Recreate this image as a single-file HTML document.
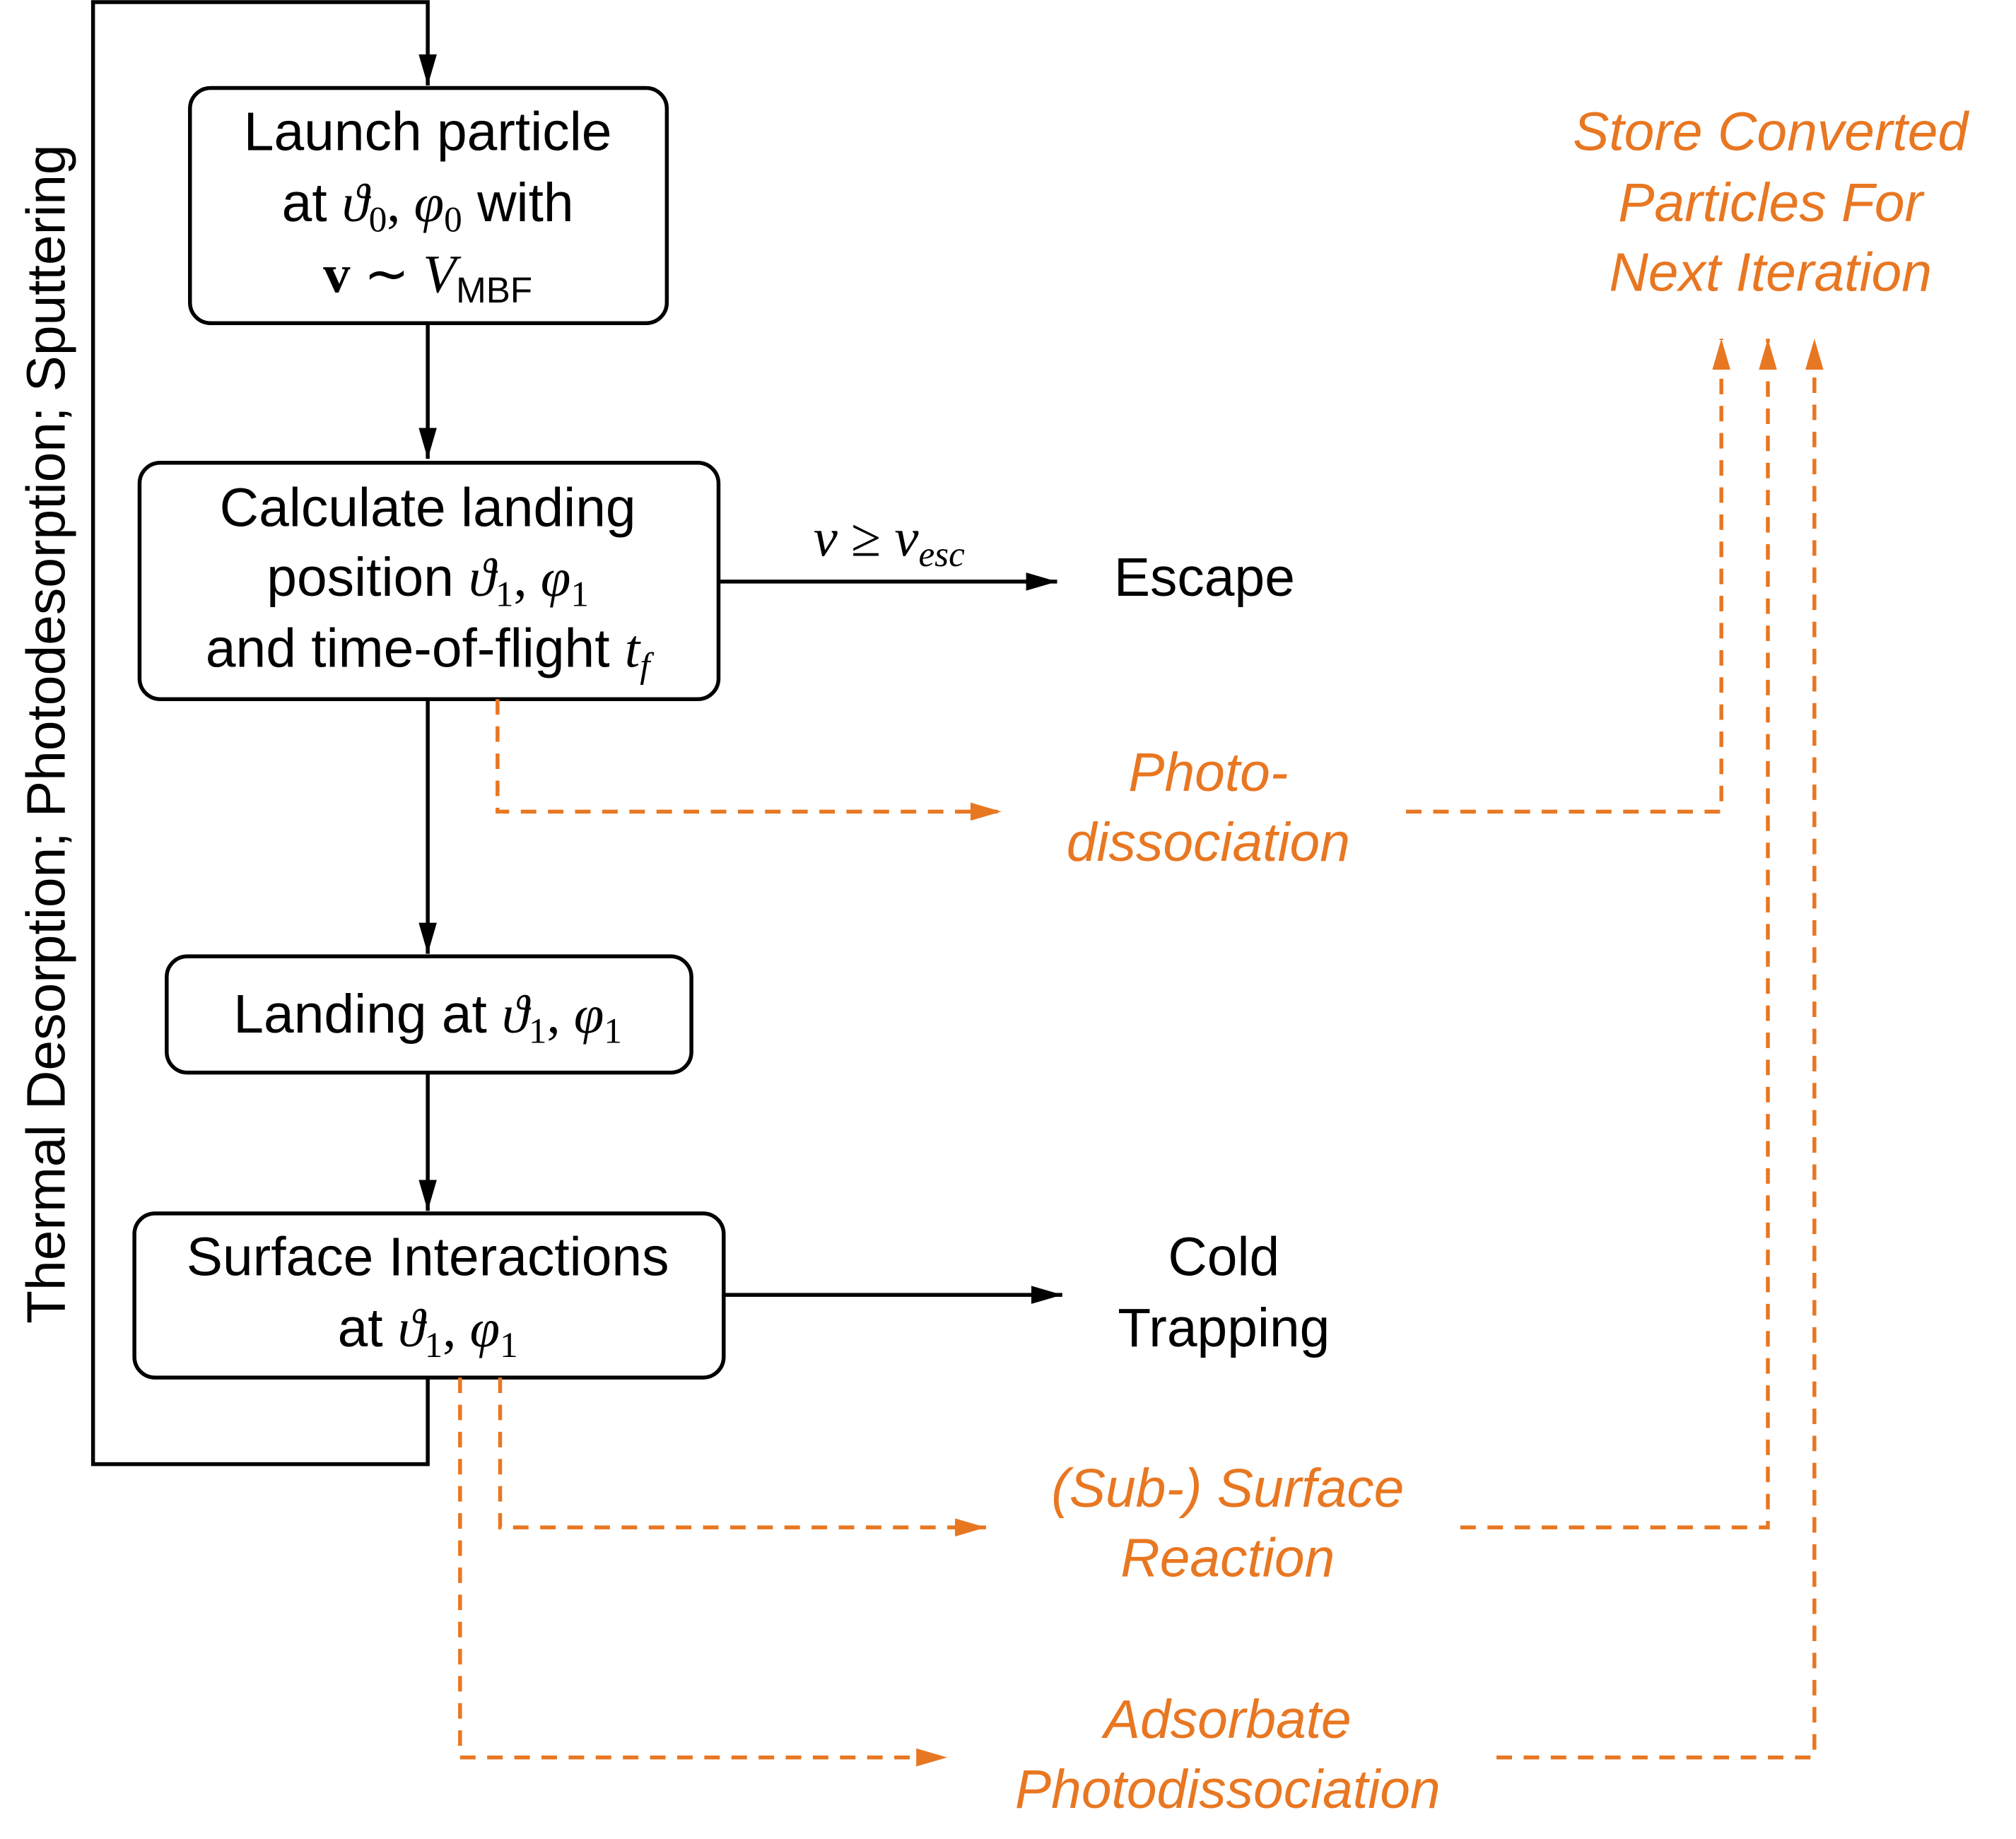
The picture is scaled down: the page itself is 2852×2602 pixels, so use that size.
<!DOCTYPE html>
<html><head><meta charset="utf-8"><style>
html,body{margin:0;padding:0;background:#fff;}
svg{display:block;}
text{font-family:"Liberation Sans",sans-serif;font-size:42px;text-anchor:middle;fill:#000;}
.m{font-family:"Liberation Serif",serif;font-style:italic;}
.r{font-family:"Liberation Serif",serif;font-style:normal;}
.o{fill:#E87722;font-style:italic;}
</style></head><body>
<svg width="2852" height="2602" viewBox="0 0 1560 1423" xmlns="http://www.w3.org/2000/svg">
<defs>
<marker id="ao" markerWidth="24" markerHeight="14" refX="24" refY="7" orient="auto" markerUnits="userSpaceOnUse"><path d="M0,0 L24,7 L0,14 z" fill="#E87722"/></marker>
<marker id="ab" markerWidth="24" markerHeight="14" refX="24" refY="7" orient="auto" markerUnits="userSpaceOnUse"><path d="M0,0 L24,7 L0,14 z" fill="#000"/></marker>
</defs>
<g fill="none" stroke="#000" stroke-width="3">
<path d="M331,1066 L331,1133 L72,1133 L72,1.5 L331,1.5 L331,66" marker-end="url(#ab)"/>
<rect x="147" y="68" width="369" height="182" rx="16"/>
<line x1="331" y1="250" x2="331" y2="355" marker-end="url(#ab)"/>
<rect x="108" y="358" width="448" height="183" rx="16"/>
<line x1="556" y1="450" x2="818" y2="450" marker-end="url(#ab)"/>
<line x1="331" y1="541" x2="331" y2="738" marker-end="url(#ab)"/>
<rect x="129" y="740" width="406" height="90" rx="16"/>
<line x1="331" y1="830" x2="331" y2="937" marker-end="url(#ab)"/>
<rect x="104" y="939" width="456" height="127" rx="16"/>
<line x1="560" y1="1002" x2="822" y2="1002" marker-end="url(#ab)"/>
</g>
<g fill="none" stroke="#E87722" stroke-width="3" stroke-dasharray="12,9">
<path d="M385,541 L385,628 L775,628" marker-end="url(#ao)"/>
<path d="M1088,628 L1332,628 L1332,262" marker-end="url(#ao)"/>
<path d="M387,1066 L387,1182 L763,1182" marker-end="url(#ao)"/>
<path d="M1130,1182 L1368,1182 L1368,262" marker-end="url(#ao)"/>
<path d="M356,1066 L356,1360 L733,1360" marker-end="url(#ao)"/>
<path d="M1158,1360 L1404,1360 L1404,262" marker-end="url(#ao)"/>
</g>
<text x="331" y="116">Launch particle</text>
<text x="331" y="171">at <tspan class="m">ϑ</tspan><tspan class="r" font-size="28" dy="8">0</tspan><tspan class="r" dy="-8">, </tspan><tspan class="m">φ</tspan><tspan class="r" font-size="28" dy="8">0</tspan><tspan dy="-8"> with</tspan></text>
<text x="331" y="226"><tspan class="r" font-weight="bold">v</tspan><tspan class="r"> ∼ </tspan><tspan class="m">V</tspan><tspan font-size="28" dy="8">MBF</tspan></text>
<text x="331" y="407">Calculate landing</text>
<text x="331" y="461">position <tspan class="m">ϑ</tspan><tspan class="r" font-size="28" dy="8">1</tspan><tspan class="r" dy="-8">, </tspan><tspan class="m">φ</tspan><tspan class="r" font-size="28" dy="8">1</tspan></text>
<text x="331" y="516">and time-of-flight <tspan class="m">t</tspan><tspan class="m" font-size="28" dy="8">f</tspan></text>
<text x="688" y="430" class="m">v <tspan class="r">≥</tspan> v<tspan font-size="28" dy="8">esc</tspan></text>
<text x="932" y="461">Escape</text>
<text x="331" y="799">Landing at <tspan class="m">ϑ</tspan><tspan class="r" font-size="28" dy="8">1</tspan><tspan class="r" dy="-8">, </tspan><tspan class="m">φ</tspan><tspan class="r" font-size="28" dy="8">1</tspan></text>
<text x="331" y="987">Surface Interactions</text>
<text x="331" y="1042">at <tspan class="m">ϑ</tspan><tspan class="r" font-size="28" dy="8">1</tspan><tspan class="r" dy="-8">, </tspan><tspan class="m">φ</tspan><tspan class="r" font-size="28" dy="8">1</tspan></text>
<text x="947" y="987">Cold</text>
<text x="947" y="1042">Trapping</text>
<text class="o" x="935" y="612">Photo-</text>
<text class="o" x="935" y="666">dissociation</text>
<text class="o" x="950" y="1166">(Sub-) Surface</text>
<text class="o" x="950" y="1220">Reaction</text>
<text class="o" x="950" y="1345">Adsorbate</text>
<text class="o" x="950" y="1399">Photodissociation</text>
<text class="o" x="1370" y="116">Store Converted</text>
<text class="o" x="1370" y="171">Particles For</text>
<text class="o" x="1370" y="225">Next Iteration</text>
<text transform="translate(50,568) rotate(-90)">Thermal Desorption; Photodesorption; Sputtering</text>
</svg>
</body></html>
